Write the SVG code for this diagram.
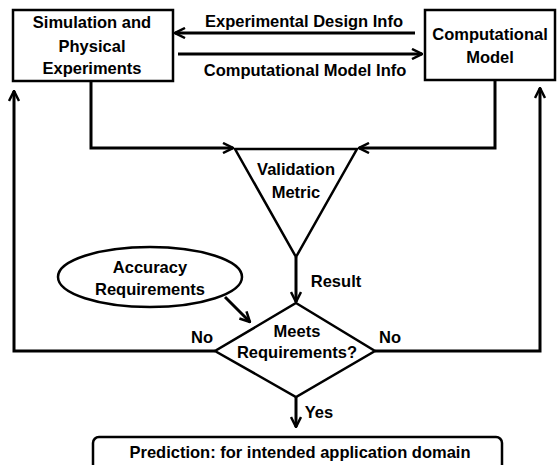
<svg xmlns="http://www.w3.org/2000/svg" width="560" height="465" viewBox="0 0 560 465">
<style>
text{font-family:"Liberation Sans",Arial,sans-serif;font-weight:bold;font-size:16.5px;fill:#000;text-anchor:middle}
.shape{fill:#fff;stroke:#000;stroke-width:2.5}
.conn{fill:none;stroke:#000;stroke-width:3}
</style>
<defs>
<marker id="arr" viewBox="0 0 12 12" refX="11" refY="6" markerWidth="12" markerHeight="12" markerUnits="userSpaceOnUse" orient="auto">
<path d="M1,1 L11,6 L1,11" fill="none" stroke="#000" stroke-width="2.5"/>
</marker>
</defs>
<rect width="560" height="465" fill="#fff"/>
<g id="connectors">
<line class="conn" x1="415" y1="33" x2="175" y2="33" marker-end="url(#arr)"/>
<line class="conn" x1="178" y1="54" x2="422" y2="54" marker-end="url(#arr)"/>
<polyline class="conn" points="91,81 91,148 233,148" marker-end="url(#arr)"/>
<polyline class="conn" points="495,80 495,148 359,148" marker-end="url(#arr)"/>
<line class="conn" x1="296" y1="257" x2="296" y2="302" marker-end="url(#arr)"/>
<line class="conn" x1="225" y1="297" x2="250" y2="322" marker-end="url(#arr)"/>
<polyline class="conn" points="215,351 14,351 14,91" marker-end="url(#arr)"/>
<polyline class="conn" points="375,351 540,351 540,88" marker-end="url(#arr)"/>
<line class="conn" x1="296" y1="397" x2="296" y2="427" marker-end="url(#arr)"/>
<text x="304" y="27">Experimental Design Info</text>
<text x="305" y="76">Computational Model Info</text>
<text x="336" y="287">Result</text>
<text x="202" y="343">No</text>
<text x="390" y="343">No</text>
<text x="319" y="418">Yes</text>
</g>
<g id="sim">
<rect class="shape" x="13" y="10" width="160" height="71"/>
<text x="92" y="28">Simulation and</text>
<text x="92" y="52">Physical</text>
<text x="92" y="74">Experiments</text>
</g>
<g id="model">
<rect class="shape" x="425" y="10" width="130" height="70"/>
<text x="490" y="40">Computational</text>
<text x="490" y="63">Model</text>
</g>
<g id="metric">
<polygon class="shape" points="235,149 357,149 296,257"/>
<text x="296" y="175">Validation</text>
<text x="296" y="198">Metric</text>
</g>
<g id="accuracy">
<ellipse class="shape" cx="150" cy="277" rx="92" ry="30"/>
<text x="150" y="273">Accuracy</text>
<text x="150" y="295">Requirements</text>
</g>
<g id="decision">
<polygon class="shape" points="296,303 375,351 296,397 215,351"/>
<text x="297" y="337">Meets</text>
<text x="297" y="358">Requirements?</text>
</g>
<g id="prediction">
<rect class="shape" x="93" y="437" width="409" height="40" rx="6"/>
<text x="300" y="458">Prediction: for intended application domain</text>
</g>
</svg>
